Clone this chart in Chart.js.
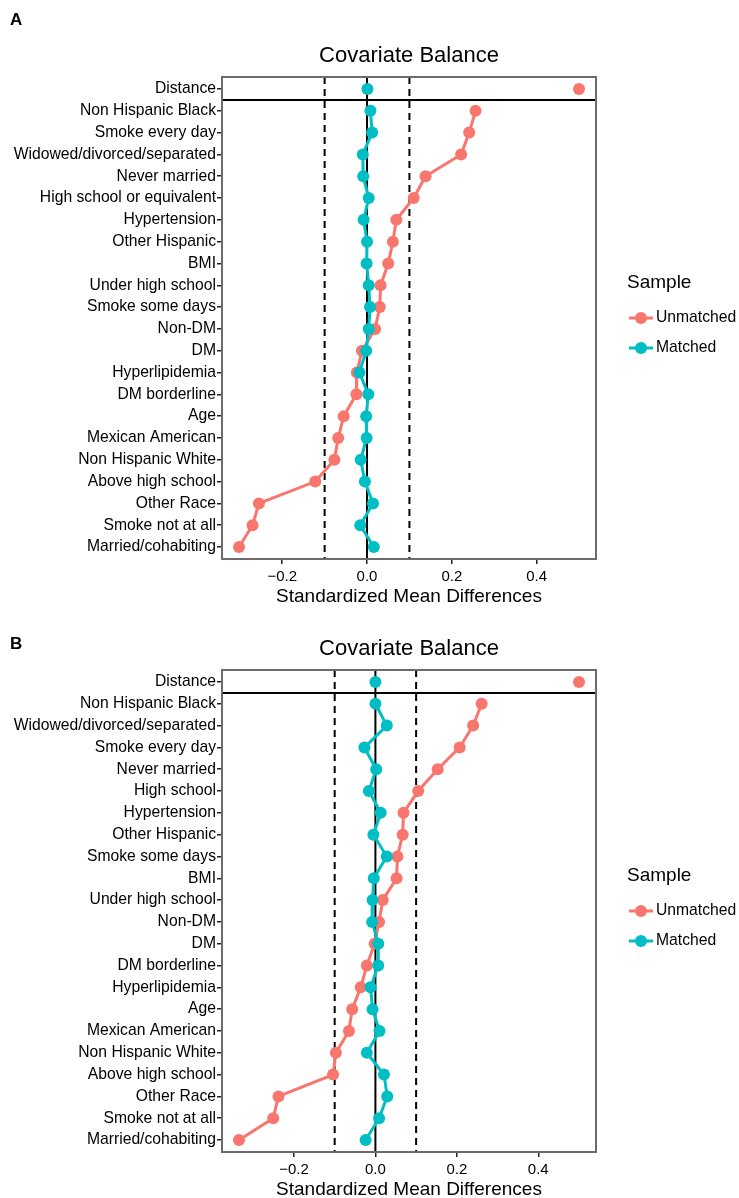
<!DOCTYPE html>
<html>
<head>
<meta charset="utf-8">
<script src="https://cdn.jsdelivr.net/npm/chart.js@4.4.1/dist/chart.umd.min.js"></script>
<style>
  html, body { margin: 0; padding: 0; background: #fff; overflow: hidden; width: 739px; height: 1198px; }
  canvas { position: absolute; left: 0; }
</style>
</head>
<body>
<canvas id="panelA" width="739" height="610" style="top:0px"></canvas>
<canvas id="panelB" width="739" height="610" style="top:593px"></canvas>
<script>
// Panel A
const categoriesA = [
  "Distance", "Non Hispanic Black", "Smoke every day", "Widowed/divorced/separated",
  "Never married", "High school or equivalent", "Hypertension", "Other Hispanic", "BMI",
  "Under high school", "Smoke some days", "Non-DM", "DM", "Hyperlipidemia", "DM borderline",
  "Age", "Mexican American", "Non Hispanic White", "Above high school", "Other Race",
  "Smoke not at all", "Married/cohabiting",
];
const unmatchedA = [0.50, 0.256, 0.241, 0.222, 0.138, 0.110, 0.069, 0.061, 0.050, 0.032, 0.030,
  0.019, -0.012, -0.024, -0.025, -0.055, -0.068, -0.077, -0.122, -0.255, -0.270, -0.302];
const matchedA = [0.001, 0.008, 0.012, -0.010, -0.009, 0.004, -0.008, 0.000, -0.001, 0.004, 0.007,
  0.004, -0.002, -0.018, 0.003, -0.002, -0.001, -0.015, -0.005, 0.014, -0.016, 0.016];

// Panel B
const categoriesB = [
  "Distance", "Non Hispanic Black", "Widowed/divorced/separated", "Smoke every day",
  "Never married", "High school", "Hypertension", "Other Hispanic", "Smoke some days", "BMI",
  "Under high school", "Non-DM", "DM", "DM borderline", "Hyperlipidemia", "Age",
  "Mexican American", "Non Hispanic White", "Above high school", "Other Race",
  "Smoke not at all", "Married/cohabiting",
];
const unmatchedB = [0.50, 0.261, 0.240, 0.207, 0.153, 0.105, 0.069, 0.067, 0.054, 0.052, 0.018,
  0.009, -0.002, -0.021, -0.036, -0.057, -0.065, -0.097, -0.104, -0.238, -0.251, -0.335];
const matchedB = [0.000, 0.000, 0.028, -0.027, 0.002, -0.016, 0.013, -0.005, 0.028, -0.004, -0.007,
  -0.008, 0.007, 0.007, -0.012, -0.007, 0.010, -0.021, 0.021, 0.029, 0.009, -0.024];

const xTicks = [-0.2, 0, 0.2, 0.4];
const thresholds = [-0.1, 0.1];
const seriesNames = ["Unmatched", "Matched"];

const RED = "#F8766D";
const TEAL = "#00BFC4";
const FONT = "'Liberation Sans', Arial, Helvetica, sans-serif";
const CANVAS_H = 610;
const PLOT_BOTTOM = 559;

Chart.defaults.font.family = FONT;
Chart.defaults.color = "#000";

// vertical reference lines + the line under "Distance"
const refLines = {
  id: "refLines",
  beforeDatasetsDraw(chart) {
    const { ctx, chartArea: a, scales: { x, y } } = chart;
    ctx.save();
    ctx.strokeStyle = "#000";
    ctx.lineWidth = 2;
    ctx.setLineDash([7, 5]);
    thresholds.forEach((t) => {
      const px = x.getPixelForValue(t);
      ctx.beginPath();
      ctx.moveTo(px, a.top);
      ctx.lineTo(px, a.bottom);
      ctx.stroke();
    });
    ctx.setLineDash([]);
    const zx = x.getPixelForValue(0);
    ctx.beginPath();
    ctx.moveTo(zx, a.top);
    ctx.lineTo(zx, a.bottom);
    ctx.stroke();
    const sy = y.getPixelForValue(0.5);
    ctx.beginPath();
    ctx.moveTo(a.left, sy);
    ctx.lineTo(a.right, sy);
    ctx.stroke();
    ctx.restore();
  },
};

// panel border, tag letter and legend
const panelDecor = {
  id: "panelDecor",
  afterDatasetsDraw(chart) {
    const { ctx, chartArea: a } = chart;
    ctx.save();
    ctx.strokeStyle = "#6b6b6b";
    ctx.lineWidth = 2;
    ctx.strokeRect(a.left, a.top, a.right - a.left, a.bottom - a.top);
    ctx.restore();
  },
  afterDraw(chart, args, opts) {
    const { ctx } = chart;
    ctx.save();
    ctx.fillStyle = "#000";
    ctx.textBaseline = "middle";
    ctx.textAlign = "left";
    ctx.font = `bold 17px ${FONT}`;
    ctx.fillText(opts.letter, 10, opts.letterY);

    ctx.font = `19px ${FONT}`;
    ctx.fillText("Sample", 627, 282.5);
    const colors = [RED, TEAL];
    const ys = [318, 348];
    seriesNames.forEach((name, i) => {
      ctx.strokeStyle = colors[i];
      ctx.fillStyle = colors[i];
      ctx.lineWidth = 3;
      ctx.beginPath();
      ctx.moveTo(629, ys[i]);
      ctx.lineTo(653, ys[i]);
      ctx.stroke();
      ctx.beginPath();
      ctx.arc(641, ys[i], 6, 0, Math.PI * 2);
      ctx.fill();
      ctx.fillStyle = "#000";
      ctx.font = `15.7px ${FONT}`;
      ctx.fillText(name, 656, ys[i]);
    });
    ctx.restore();
  },
};

function toPoints(values, from) {
  return values.slice(from).map((v, i) => ({ x: v, y: i + from }));
}

function buildPanel(canvasId, letter, letterY, categories, unmatched, matched) {
  const all = unmatched.concat(matched);
  const lo = Math.min(...all);
  const hi = Math.max(...all);
  const pad = (hi - lo) * 0.05;

  const style = (color, order) => ({
    borderColor: color,
    backgroundColor: color,
    borderWidth: 3,
    pointRadius: 6,
    pointBorderWidth: 0,
    pointHoverRadius: 6,
    order,
  });

  new Chart(document.getElementById(canvasId), {
    type: "scatter",
    data: {
      datasets: [
        { label: "Matched", data: toPoints(matched, 1), showLine: true, ...style(TEAL, 1) },
        { label: "Unmatched", data: toPoints(unmatched, 1), showLine: true, ...style(RED, 2) },
        { label: "Matched (distance)", data: [{ x: matched[0], y: 0 }], showLine: false, ...style(TEAL, 1) },
        { label: "Unmatched (distance)", data: [{ x: unmatched[0], y: 0 }], showLine: false, ...style(RED, 2) },
      ],
    },
    options: {
      responsive: false,
      animation: false,
      devicePixelRatio: 1,
      events: [],
      layout: { padding: { top: 0, right: 143, left: 0, bottom: 0 } },
      plugins: {
        legend: { display: false },
        tooltip: { enabled: false },
        title: {
          display: true,
          fullSize: false,
          text: "Covariate Balance",
          color: "#000",
          font: { size: 22, weight: "normal" },
          padding: { top: 42.5, bottom: 8.1 },
        },
        panelDecor: { letter, letterY },
      },
      scales: {
        x: {
          type: "linear",
          min: lo - pad,
          max: hi + pad,
          afterBuildTicks: (s) => { s.ticks = xTicks.map((v) => ({ value: v })); },
          afterFit: (s) => { s.height = CANVAS_H - PLOT_BOTTOM; },
          border: { display: false },
          grid: { drawOnChartArea: false, drawTicks: true, tickLength: 5, color: "#222", lineWidth: 1.5 },
          ticks: {
            color: "#000",
            font: { size: 15 },
            padding: 3.5,
            callback: (v) => v.toFixed(1).replace("-", "\u2212"),
          },
          title: {
            display: true,
            text: "Standardized Mean Differences",
            color: "#000",
            font: { size: 19 },
            padding: { top: 0, bottom: 1.5 },
          },
        },
        y: {
          type: "linear",
          reverse: true,
          min: -0.55,
          max: categories.length - 0.45,
          afterBuildTicks: (s) => { s.ticks = categories.map((c, i) => ({ value: i })); },
          afterFit: (s) => { s.width = 222; },
          border: { display: false },
          grid: { drawOnChartArea: false, drawTicks: true, tickLength: 5, color: "#222", lineWidth: 1.5 },
          ticks: {
            autoSkip: false,
            color: "#000",
            font: { size: 15.7 },
            padding: 1,
            callback: (v) => categories[v],
          },
        },
      },
    },
    plugins: [refLines, panelDecor],
  });
}

buildPanel("panelA", "A", 20, categoriesA, unmatchedA, matchedA);
buildPanel("panelB", "B", 51, categoriesB, unmatchedB, matchedB);
</script>
</body>
</html>
